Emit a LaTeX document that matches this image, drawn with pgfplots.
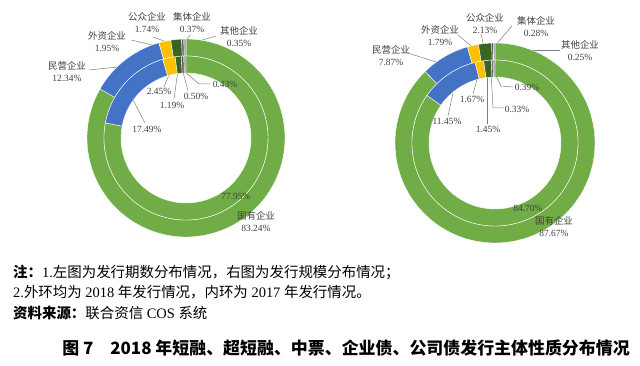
\documentclass[border=0pt]{standalone}
\usepackage{fontspec}
\setmainfont{Liberation Serif}
\newfontfamily\cjk{Noto Sans CJK SC}
\usepackage{pgfplots}
\pgfplotsset{compat=1.18}
\usepackage{pgfplotstable}
\definecolor{cGuo}{HTML}{70AD47}
\definecolor{cMin}{HTML}{4472C4}
\definecolor{cWai}{HTML}{FFC000}
\definecolor{cGong}{HTML}{3A6424}
\definecolor{cJi}{HTML}{5A5A5A}
\definecolor{cQi}{HTML}{A5A5A5}
\definecolor{cLab}{HTML}{404040}
\definecolor{cLine}{HTML}{808080}

% annulus sector as a plot mark: start and pct in percent, counter-clockwise from 12 o'clock
\pgfdeclareplotmark{sector}{%
  \pgfmathsetmacro\aA{90+3.6*\sstart}%
  \pgfmathsetmacro\aB{90+3.6*(\sstart+\spct)}%
  \pgfpathmoveto{\pgfpointpolar{\aA}{\sro bp}}%
  \pgfpatharc{\aA}{\aB}{\sro bp}%
  \pgfpathlineto{\pgfpointpolar{\aB}{\sri bp}}%
  \pgfpatharc{\aB}{\aA}{\sri bp}%
  \pgfpathclose
  \pgfusepathqfillstroke
}

% columns: centre x, centre y, inner radius, outer radius, cumulative start (%), share (%)
% rows: left 2018 (outer), left 2017 (inner), right 2018 (outer), right 2017 (inner)
\pgfplotstableread{
cx cy ri ro start pct
186 228 82 99 16.75 83.24
186 228 65 82 22.06 77.95
495 223 83 100 12.32 87.67
495 223 66 83 15.29 84.70
}\tGuo
\pgfplotstableread{
cx cy ri ro start pct
186 228 82 99 4.41 12.34
186 228 65 82 4.57 17.49
495 223 83 100 4.45 7.87
495 223 66 83 3.84 11.45
}\tMin
\pgfplotstableread{
cx cy ri ro start pct
186 228 82 99 2.46 1.95
186 228 65 82 2.12 2.45
495 223 83 100 2.66 1.79
495 223 66 83 2.17 1.67
}\tWai
\pgfplotstableread{
cx cy ri ro start pct
186 228 82 99 0.72 1.74
186 228 65 82 0.93 1.19
495 223 83 100 0.53 2.13
495 223 66 83 0.72 1.45
}\tGong
\pgfplotstableread{
cx cy ri ro start pct
186 228 82 99 0.35 0.37
186 228 65 82 0.43 0.50
495 223 83 100 0.25 0.28
495 223 66 83 0.39 0.33
}\tJi
\pgfplotstableread{
cx cy ri ro start pct
186 228 82 99 0 0.35
186 228 65 82 0 0.43
495 223 83 100 0 0.25
495 223 66 83 0 0.39
}\tQi

\pgfplotsset{
  sect/.style={only marks, mark=sector, draw=white, fill=#1, line width=0.4bp,
    mark options={solid, draw=white, fill=#1},
    visualization depends on={\thisrow{start}\as\sstart},
    visualization depends on={\thisrow{pct}\as\spct},
    visualization depends on={\thisrow{ri}\as\sri},
    visualization depends on={\thisrow{ro}\as\sro}},
  lead/.style={cLine, line width=0.5bp, mark=none, sharp plot},
}
\tikzset{lab/.style={font=\fontsize{9.5}{12}\selectfont, text=cLab, align=center, inner sep=0pt}}

\begin{document}
\begin{tikzpicture}
\path[use as bounding box, fill=white] (0,0) rectangle (640bp,366bp);
\begin{axis}[x=1bp, y=1bp, xmin=0, xmax=640, ymin=0, ymax=366,
  hide axis, clip=false, anchor=south west, at={(0,0)}]
\addplot[sect=cGuo] table[x=cx, y=cy] {\tGuo};
\addplot[sect=cMin] table[x=cx, y=cy] {\tMin};
\addplot[sect=cWai] table[x=cx, y=cy] {\tWai};
\addplot[sect=cGong] table[x=cx, y=cy] {\tGong};
\addplot[sect=cJi] table[x=cx, y=cy] {\tJi};
\addplot[sect=cQi] table[x=cx, y=cy] {\tQi};

% leader lines, left chart
\addplot[lead] coordinates {(89,296) (128,300)};
\addplot[lead] coordinates {(131,326) (165,318)};
\addplot[lead] coordinates {(153,329) (175,321)};
\addplot[lead] coordinates {(190,331) (183,321)};
\addplot[lead] coordinates {(216,330) (185,321)};
\addplot[lead] coordinates {(164,279) (171,296)};
\addplot[lead] coordinates {(174,267) (178,296)};
\addplot[lead] coordinates {(188,275) (183,294)};
\addplot[lead] coordinates {(210,282) (199,282) (185,294)};
\addplot[lead] coordinates {(145,243) (130,272)};
% leader lines, right chart
\addplot[lead] coordinates {(408,313) (442,302)};
\addplot[lead] coordinates {(458,331) (476,316)};
\addplot[lead] coordinates {(481,332) (484,319)};
\addplot[lead] coordinates {(512,340) (494,319)};
\addplot[lead] coordinates {(560,316) (495,316)};
\addplot[lead] coordinates {(513,279) (501,280) (494,294)};
\addplot[lead] coordinates {(504,258) (493,258) (491,294)};
\addplot[lead] coordinates {(487,242) (487,294)};
\addplot[lead] coordinates {(473,272) (479,294)};
\addplot[lead] coordinates {(448,250) (453,273)};
\end{axis}

% text drawn above the plots; the axis maps 1 unit to 1bp from the origin
\begin{scope}[x=1bp, y=1bp]
% labels, left chart
\node[lab] at (147,343) {{\cjk 公众企业}\\1.74\%};
\node[lab] at (192,343) {{\cjk 集体企业}\\0.37\%};
\node[lab] at (239,329) {{\cjk 其他企业}\\0.35\%};
\node[lab] at (107,324) {{\cjk 外资企业}\\1.95\%};
\node[lab] at (67,294) {{\cjk 民营企业}\\12.34\%};
\node[lab] at (256,144.5) {{\cjk 国有企业}\\83.24\%};
\node[lab] at (159,275) {2.45\%};
\node[lab] at (225,282) {0.43\%};
\node[lab] at (196,270) {0.50\%};
\node[lab] at (172,261) {1.19\%};
\node[lab] at (147,236.5) {17.49\%};
\node[lab] at (236,170) {77.95\%};
% labels, right chart
\node[lab] at (485,342.5) {{\cjk 公众企业}\\2.13\%};
\node[lab] at (536,339) {{\cjk 集体企业}\\0.28\%};
\node[lab] at (580,315) {{\cjk 其他企业}\\0.25\%};
\node[lab] at (440,330) {{\cjk 外资企业}\\1.79\%};
\node[lab] at (391,310) {{\cjk 民营企业}\\7.87\%};
\node[lab] at (554,139) {{\cjk 国有企业}\\87.67\%};
\node[lab] at (528,158) {84.70\%};
\node[lab] at (527,278.5) {0.39\%};
\node[lab] at (517,257) {0.33\%};
\node[lab] at (488,237) {1.45\%};
\node[lab] at (472,267) {1.67\%};
\node[lab] at (447,244.5) {11.45\%};

% notes and caption
\node[anchor=west, inner sep=0pt, font=\fontsize{14.5}{16}\selectfont] at (13,94)
  {{\cjk\bfseries 注：}1.{\cjk 左图为发行期数分布情况，右图为发行规模分布情况；}};
\node[anchor=west, inner sep=0pt, font=\fontsize{14.5}{16}\selectfont] at (13,74)
  {2.{\cjk 外环均为} 2018 {\cjk 年发行情况，内环为} 2017 {\cjk 年发行情况。}};
\node[anchor=west, inner sep=0pt, font=\fontsize{14.5}{16}\selectfont] at (13,53)
  {{\cjk\bfseries 资料来源：}{\cjk 联合资信} COS {\cjk 系统}};
\node[inner sep=0pt, font=\fontsize{17}{19}\selectfont] at (346,18)
  {{\cjk\bfseries 图 7\quad 2018 年短融、超短融、中票、企业债、公司债发行主体性质分布情况}};
\end{scope}
\end{tikzpicture}
\end{document}
